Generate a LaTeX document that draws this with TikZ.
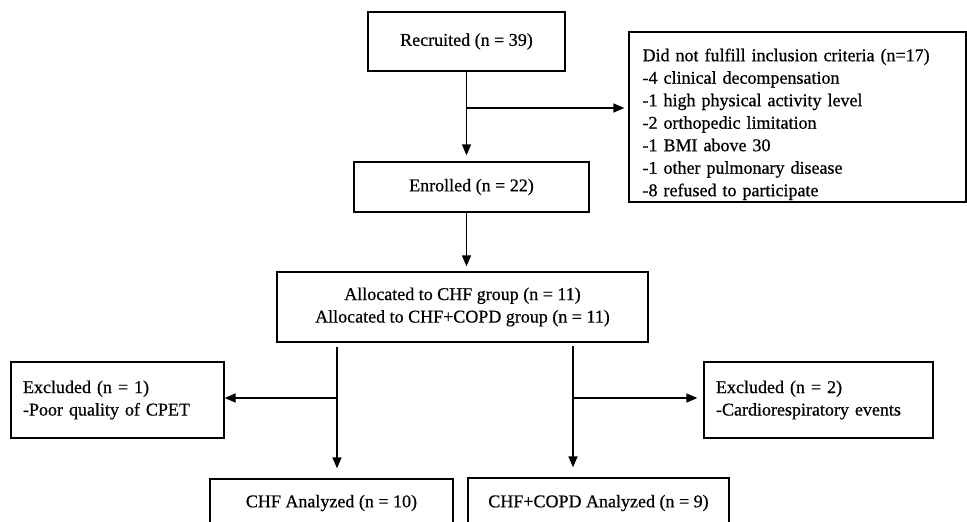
\documentclass[tikz,border=0pt]{standalone}
\usepackage{fontspec}
\setmainfont[FakeBold=0.6,AutoFakeBold=0.6]{Liberation Serif}
\usetikzlibrary{arrows.meta}
\begin{document}
\begin{tikzpicture}[x=1pt,y=-1pt,
  txt/.style={font=\fontsize{18}{22.5}\selectfont\bfseries},
  box/.style={draw=black, line width=1.3pt, rectangle, inner sep=0pt, txt},
  arr/.style={line width=1.3pt, -{Triangle[length=11pt,width=9pt]}},
  ln/.style={line width=1.3pt}]
\useasboundingbox[fill=white] (0,0) rectangle (967,522);
% boxes
\node[box, minimum width=197pt, minimum height=59pt] (rec) at (466.5,41.5) {Recruited (n = 39)};
\node[box, minimum width=235pt, minimum height=50pt] (enr) at (471.5,187) {Enrolled (n = 22)};
\node[box, minimum width=337pt, minimum height=170pt] (dnf) at (797.5,117) {};
\node[txt, anchor=north west, inner sep=0pt, text width=309pt, align=left] (dnft)
  at ([xshift=14pt,yshift=-17pt]dnf.north west)
  {Did not fulfill inclusion criteria (n=17)\\
   -4 clinical decompensation\\
   -1 high physical activity level\\
   -2 orthopedic limitation\\
   -1 BMI above 30\\
   -1 other pulmonary disease\\
   -8 refused to participate};
\node[box, minimum width=371pt, minimum height=70pt, align=center] (alloc) at (462.5,307)
  {\raisebox{-3pt}{Allocated to CHF group (n = 11)}\\\raisebox{-3pt}{Allocated to CHF+COPD group (n = 11)}};
\node[box, minimum width=213pt, minimum height=76pt, text width=189pt, align=left] (exc1) at (117.5,400)
  {Excluded (n = 1)\\-Poor quality of CPET};
\node[box, minimum width=229pt, minimum height=76pt, text width=205pt, align=left] (exc2) at (818.5,400)
  {Excluded (n = 2)\\-Cardiorespiratory events};
\node[box, minimum width=243pt, minimum height=48pt] (chf) at (331.5,503) {CHF Analyzed (n = 10)};
\node[box, minimum width=261pt, minimum height=50pt] (copd) at (598.5,503) {CHF+COPD Analyzed (n = 9)};
% connectors
\coordinate (b1) at (rec.south |- 0,108);
\draw[arr, shorten >=6pt] (rec.south) -- (rec.south |- enr.north);
\draw[arr, shorten >=4pt] (b1) -- (b1 -| dnf.west);
\draw[arr, shorten >=5pt] (enr.south -| rec.south) -- (alloc.north -| rec.south);
\coordinate (lx) at (337,347);
\coordinate (rx) at (573,346);
\draw[arr, shorten >=10pt] (lx) -- (lx |- chf.north);
\draw[arr] (lx |- 0,398) -- (exc1.east |- 0,398);
\draw[arr, shorten >=10pt] (rx) -- (rx |- copd.north);
\draw[arr, shorten >=6pt] (rx |- 0,398) -- (exc2.west |- 0,398);
\end{tikzpicture}
\end{document}
